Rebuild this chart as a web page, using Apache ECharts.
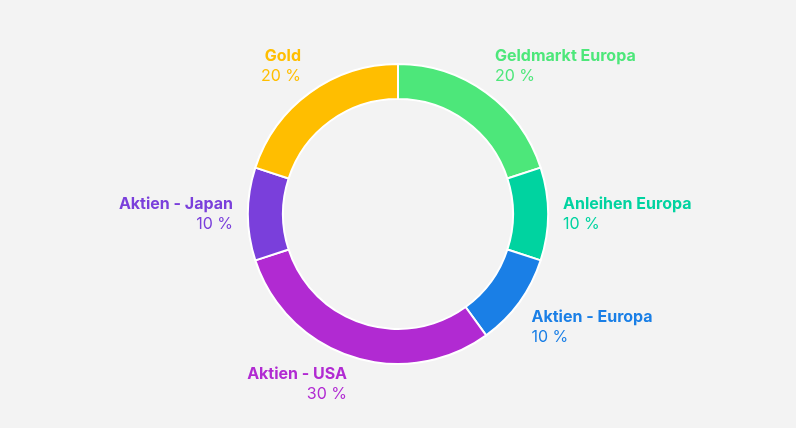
<!DOCTYPE html>
<html>
<head>
<meta charset="utf-8">
<script src="https://cdn.jsdelivr.net/npm/echarts@6/dist/echarts.min.js"></script>
<style>
html,body{margin:0;padding:0;background:#f3f3f3;}
#c{width:796px;height:428px;}
</style>
</head>
<body>
<div id="c"></div>
<script>
var categories = ['Geldmarkt Europa', 'Anleihen Europa', 'Aktien - Europa', 'Aktien - USA', 'Aktien - Japan', 'Gold'];
var values = [20, 10, 10, 30, 10, 20];
var colors = ['#4de77a', '#00d3a0', '#1a7fe6', '#b12ad2', '#7a3fdb', '#ffbe00'];

var CX = 398, CY = 214, R_IN = 115, R_OUT = 150, RX_LABEL = 165, RY_LABEL = 158;
var FONT = 'Inter';
var total = values.reduce(function (a, b) { return a + b; }, 0);
var mids = [];
(function () {
  var acc = 0;
  for (var i = 0; i < values.length; i++) {
    mids.push((acc + values[i] / 2) / total * Math.PI * 2);
    acc += values[i];
  }
})();

var chart = echarts.init(document.getElementById('c'), null, {renderer: 'canvas'});
chart.setOption({
  backgroundColor: '#f3f3f3',
  animation: false,
  series: [{
    type: 'pie',
    center: [CX, CY],
    radius: [R_IN, R_OUT],
    startAngle: 90,
    clockwise: true,
    avoidLabelOverlap: false,
    itemStyle: {borderColor: '#ffffff', borderWidth: 2},
    labelLine: {show: false},
    label: {
      show: true,
      position: 'outside',
      formatter: '{n|{b}}\n{p|{c} %}',
      fontFamily: FONT,
      rich: {
        n: {fontFamily: FONT, fontWeight: 'bold', fontSize: 16, lineHeight: 20},
        p: {fontFamily: FONT, fontWeight: 'normal', fontSize: 16, lineHeight: 20}
      }
    },
    emphasis: {disabled: true},
    labelLayout: function (params) {
      var a = mids[params.dataIndex];
      var s = Math.sin(a), c = Math.cos(a);
      var x = CX + RX_LABEL * s, y = CY - RY_LABEL * c;
      var align = s > 0.05 ? 'left' : (s < -0.05 ? 'right' : 'center');
      var va = c > 0.05 ? 'bottom' : (c < -0.05 ? 'top' : 'middle');
      return {x: x, y: y, align: align, verticalAlign: va};
    },
    data: categories.map(function (name, i) {
      return {
        name: name,
        value: values[i],
        itemStyle: {color: colors[i]},
        label: {color: colors[i]}
      };
    })
  }]
});
</script>
</body>
</html>
